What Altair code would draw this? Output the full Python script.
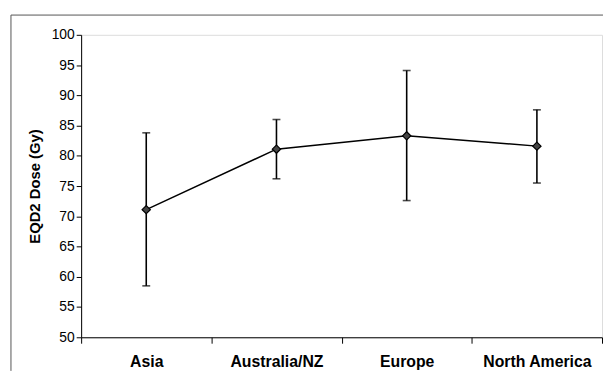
import altair as alt
import pandas as pd

regions = ["Asia", "Australia/NZ", "Europe", "North America"]
mean_dose = [71.1, 81.1, 83.3, 81.6]
lower = [58.5, 76.2, 72.6, 75.5]
upper = [83.8, 86.0, 94.1, 87.6]

df = pd.DataFrame({"region": regions, "mean": mean_dose, "lo": lower, "hi": upper})

FONT = "Liberation Sans"
y_ticks = list(range(50, 101, 5))

x_enc = alt.X(
    "region:N", sort=regions, title=None,
    scale=alt.Scale(paddingInner=0, paddingOuter=0),
    axis=alt.Axis(labelAngle=0, tickBand="extent", labelPadding=11),
)
y_scale = alt.Scale(domain=[50, 100], nice=False, zero=False)
y_axis = alt.Axis(values=y_ticks, labelOverlap=False, titlePadding=9, labelPadding=2, tickSize=5)
Y_TITLE = "EQD2 Dose (Gy)"

base = alt.Chart(df).encode(x=x_enc)

frame = alt.Chart(pd.DataFrame({"a": [0]}))
border_top = frame.mark_rule(color="#555555", strokeWidth=1).encode(
    x=alt.value(-71), x2=alt.value(528), y=alt.value(-20)
)
border_left = frame.mark_rule(color="#555555", strokeWidth=1).encode(
    x=alt.value(-71), y=alt.value(-20), y2=alt.value(340)
)

bars = base.mark_rule(color="black", strokeWidth=1.6).encode(
    y=alt.Y("lo:Q", scale=y_scale, axis=y_axis, title=Y_TITLE), y2="hi:Q"
)
cap_lo = base.mark_tick(color="black", thickness=1.6, size=8, orient="horizontal").encode(
    y=alt.Y("lo:Q", scale=y_scale, axis=y_axis, title=Y_TITLE)
)
cap_hi = base.mark_tick(color="black", thickness=1.6, size=8, orient="horizontal").encode(
    y=alt.Y("hi:Q", scale=y_scale, axis=y_axis, title=Y_TITLE)
)
line = base.mark_line(color="black", strokeWidth=1.5).encode(
    y=alt.Y("mean:Q", scale=y_scale, axis=y_axis, title=Y_TITLE)
)
pts = base.mark_point(
    shape="diamond", filled=True, fill="#444444", stroke="black", strokeWidth=1.2,
    size=70, opacity=1
).encode(
    y=alt.Y("mean:Q", scale=y_scale, axis=y_axis, title=Y_TITLE)
)

chart = alt.layer(border_top, border_left, bars, cap_lo, cap_hi, line, pts).properties(
    width=527, height=306,
    autosize=alt.AutoSizeParams(type="none"),
    padding={"left": 74, "top": 25, "right": 1, "bottom": 34},
).configure_view(stroke=None).configure(background="white").configure_axis(
    labelFont=FONT, labelFontSize=14, labelColor="black",
    titleFont=FONT, titleFontSize=15, titleFontWeight="bold", titleColor="black",
    tickColor="black", domainColor="black", grid=False, tickSize=5,
).configure_axisX(labelFontWeight="bold", labelFontSize=16, tickSize=6)

chart.save("out.html", embed_options={"renderer": "svg", "actions": False})
